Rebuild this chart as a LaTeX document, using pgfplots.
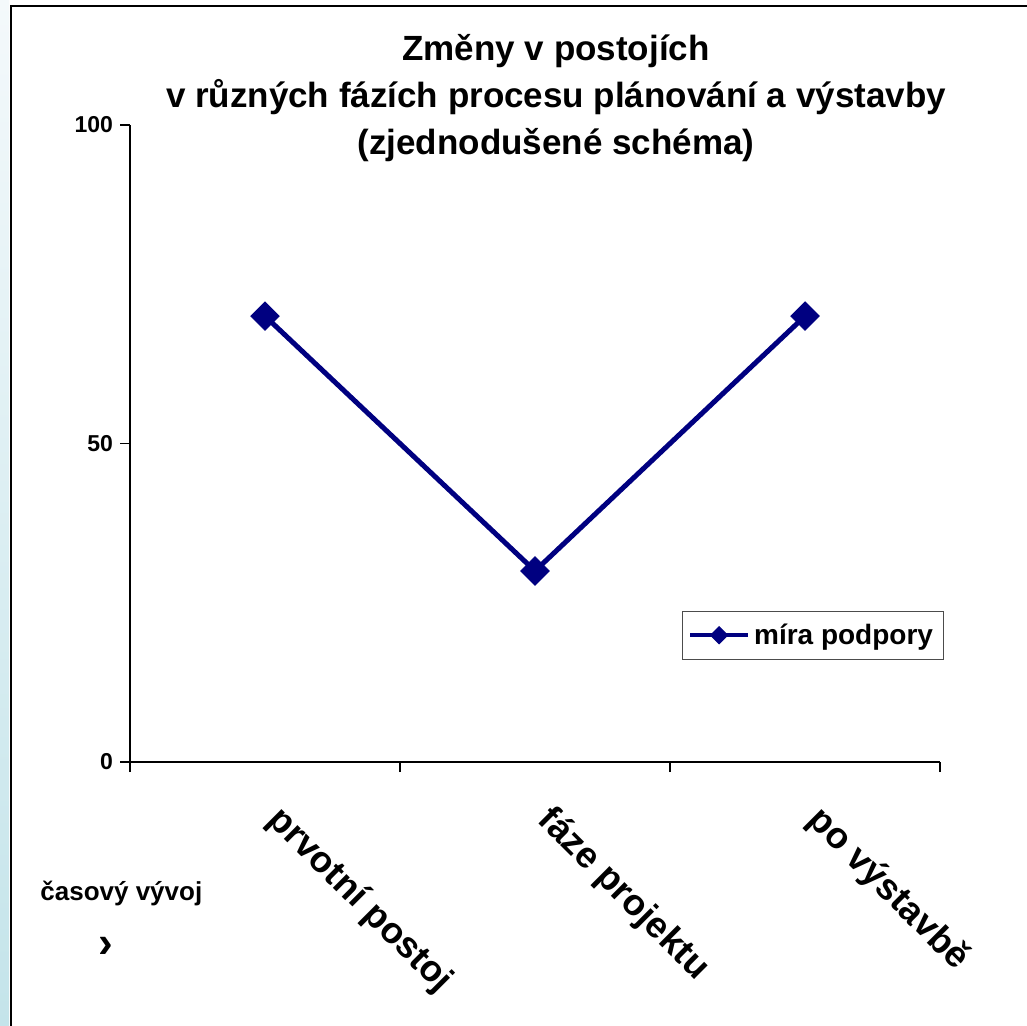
\documentclass[border=0pt]{standalone}
\usepackage{fontspec}
\setmainfont{Liberation Sans}
\usepackage{pgfplots}
\pgfplotsset{compat=1.18}

\definecolor{linenavy}{RGB}{0,0,128}
\definecolor{striptop}{RGB}{244,249,251}
\definecolor{stripbot}{RGB}{196,228,234}

\begin{document}
\begin{tikzpicture}
% page = 1027 x 1025 px, 1 px = 0.5pt
\path[use as bounding box] (0,0) rectangle (513.5pt,512.5pt);
\shade[top color=striptop, bottom color=stripbot] (0,0) rectangle (4.5pt,512.5pt);
\draw[line width=0.75pt] (5.5pt,-5pt) -- (5.5pt,509.5pt) -- (520pt,509.5pt);

\begin{axis}[
  at={(65pt,131.5pt)}, anchor=south west,
  width=405pt, height=318.5pt, scale only axis,
  xmin=0, xmax=3, ymin=0, ymax=100,
  axis x line=bottom, axis y line=left,
  axis line style={-, line width=0.75pt},
  xtick={0,1,2,3}, xticklabels={},
  ytick={0,50,100},
  tick align=outside,
  major tick length=5pt,
  tick style={line width=0.75pt, black},
  /pgf/number format/assume math mode=true,
  yticklabel style={font=\fontsize{11.5}{13}\selectfont\bfseries},
  extra x ticks={0.5,1.5,2.5},
  extra x tick labels={prvotní postoj, fáze projektu, po výstavbě},
  extra x tick style={major tick length=0pt,
    ticklabel style={font=\fontsize{18.3}{20}\selectfont\bfseries,
      rotate=-45, anchor=north west, xshift=18pt, yshift=-3.5pt}},
  clip=false,
  legend style={at={(0.681,0.237)}, anchor=north west,
    draw=black!70, line width=0.5pt,
    font=\fontsize{14}{16}\selectfont\bfseries,
    inner xsep=3pt, inner ysep=4pt},
  legend image code/.code={
    \draw[mark repeat=2, mark phase=2, #1, mark size=3pt, line width=2pt]
      plot coordinates {(0pt,0pt) (14.5pt,0pt) (29pt,0pt)};
  },
]
\addplot[color=linenavy, line width=2.5pt, mark=square*,
  mark size=5pt, mark options={rotate=45, solid, line width=0.5pt}]
  coordinates {(0.5,70) (1.5,30) (2.5,70)};
\addlegendentry{míra podpory}
\end{axis}

\node[anchor=base, font=\fontsize{17.5}{20}\selectfont\bfseries] at (278pt,482pt) {Změny v postojích};
\node[anchor=base, font=\fontsize{17.5}{20}\selectfont\bfseries] at (278pt,458.5pt) {v různých fázích procesu plánování a výstavby};
\node[anchor=base, font=\fontsize{17.5}{20}\selectfont\bfseries] at (278pt,435pt) {(zjednodušené schéma)};

\node[anchor=base west, inner sep=0pt, font=\fontsize{13}{15}\selectfont\bfseries] at (20pt,62.5pt) {časový vývoj};
\node[inner sep=0pt, font=\fontsize{22}{24}\selectfont\bfseries] at (53pt,39pt) {›};
\end{tikzpicture}
\end{document}
